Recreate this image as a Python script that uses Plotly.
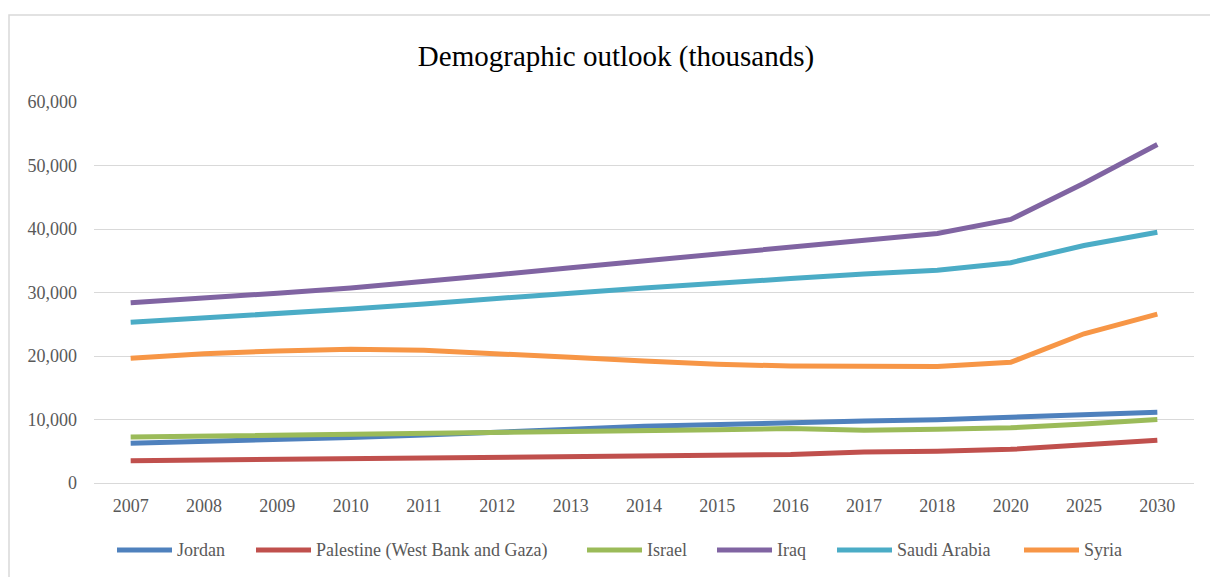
import plotly.graph_objects as go

# Categories on the x axis (irregular step after 2018)
years = ["2007", "2008", "2009", "2010", "2011", "2012", "2013", "2014",
         "2015", "2016", "2017", "2018", "2020", "2025", "2030"]

# Population, thousands
jordan = [6250, 6500, 6800, 7150, 7550, 7950, 8450, 8950,
          9250, 9500, 9750, 9950, 10300, 10750, 11150]
palestine = [3510, 3600, 3700, 3800, 3900, 4000, 4120, 4230,
             4350, 4480, 4900, 5000, 5300, 6000, 6750]
israel = [7240, 7370, 7490, 7620, 7740, 7880, 8020, 8180,
          8380, 8600, 8320, 8450, 8700, 9300, 10000]
iraq = [28400, 29100, 29900, 30700, 31700, 32800, 33900, 35000,
        36100, 37200, 38300, 39300, 41500, 47200, 53300]
saudi = [25300, 25950, 26700, 27400, 28200, 29100, 29900, 30700,
         31500, 32200, 32900, 33500, 34700, 37400, 39500]
syria = [19650, 20350, 20800, 21050, 20900, 20400, 19800, 19200,
         18700, 18420, 18320, 18330, 19000, 23500, 26600]

names = ["Jordan", "Palestine (West Bank and Gaza)", "Israel", "Iraq",
         "Saudi Arabia", "Syria"]
colors = ["#4F81BD", "#C0504D", "#9BBB59", "#8064A2", "#4BACC6", "#F79646"]
values = [jordan, palestine, israel, iraq, saudi, syria]

y_ticks = [0, 10000, 20000, 30000, 40000, 50000, 60000]
y_tick_text = ["0", "10,000", "20,000", "30,000", "40,000", "50,000", "60,000"]

W, H = 1210, 577
L, R, T, B = 94, 16, 102, 94
plot_w, plot_h = W - L - R, H - T - B


def px_x(px):
    """Pixel column -> paper x."""
    return (px - L) / plot_w


def px_y(py):
    """Pixel row -> paper y."""
    return (H - B - py) / plot_h


serif = "Liberation Serif"
grey_text = "#595959"

fig = go.Figure()
for name, vals, color in zip(names, values, colors):
    fig.add_trace(go.Scatter(
        x=years, y=vals, name=name, mode="lines",
        line=dict(color=color, width=5),
        showlegend=False,
    ))

shapes = [dict(type="rect", xref="paper", yref="paper",
               x0=px_x(9), x1=px_x(1225), y0=px_y(600), y1=px_y(15),
               line=dict(color="#D9D9D9", width=1.5),
               fillcolor="rgba(0,0,0,0)", layer="below")]
annotations = []

# Legend row along the bottom: a short line sample followed by the name
legend_y = 550
legend_starts = [117, 256, 587, 717, 837, 1024]
sample_len = 55
for start, name, color in zip(legend_starts, names, colors):
    shapes.append(dict(type="line", xref="paper", yref="paper",
                       x0=px_x(start), x1=px_x(start + sample_len),
                       y0=px_y(legend_y), y1=px_y(legend_y),
                       line=dict(color=color, width=5)))
    annotations.append(dict(text=name, xref="paper", yref="paper",
                            x=px_x(start + sample_len + 3), y=px_y(legend_y),
                            xanchor="left", yanchor="middle", showarrow=False,
                            font=dict(family=serif, size=18, color=grey_text)))

fig.update_layout(
    width=W, height=H,
    margin=dict(l=L, r=R, t=T, b=B),
    paper_bgcolor="white", plot_bgcolor="white",
    title=dict(text="Demographic outlook (thousands)", x=616 / W,
               xanchor="center", y=1 - 56 / H, yanchor="middle",
               font=dict(family=serif, size=29, color="black")),
    font=dict(family=serif, size=18, color=grey_text),
    xaxis=dict(type="category", showgrid=False, zeroline=False,
               showline=False, ticks="", ticklabelstandoff=10,
               tickfont=dict(family=serif, size=18, color=grey_text),
               range=[-0.5, len(years) - 0.5]),
    yaxis=dict(range=[0, 60000], tickvals=y_ticks, ticktext=y_tick_text,
               showgrid=True, gridcolor="#D9D9D9", gridwidth=1,
               zeroline=True, zerolinecolor="#D9D9D9", zerolinewidth=1,
               showline=False, ticks="", ticklabelstandoff=16,
               tickfont=dict(family=serif, size=18, color=grey_text)),
    showlegend=False,
    shapes=shapes,
    annotations=annotations,
)

fig.write_html("out.html")
